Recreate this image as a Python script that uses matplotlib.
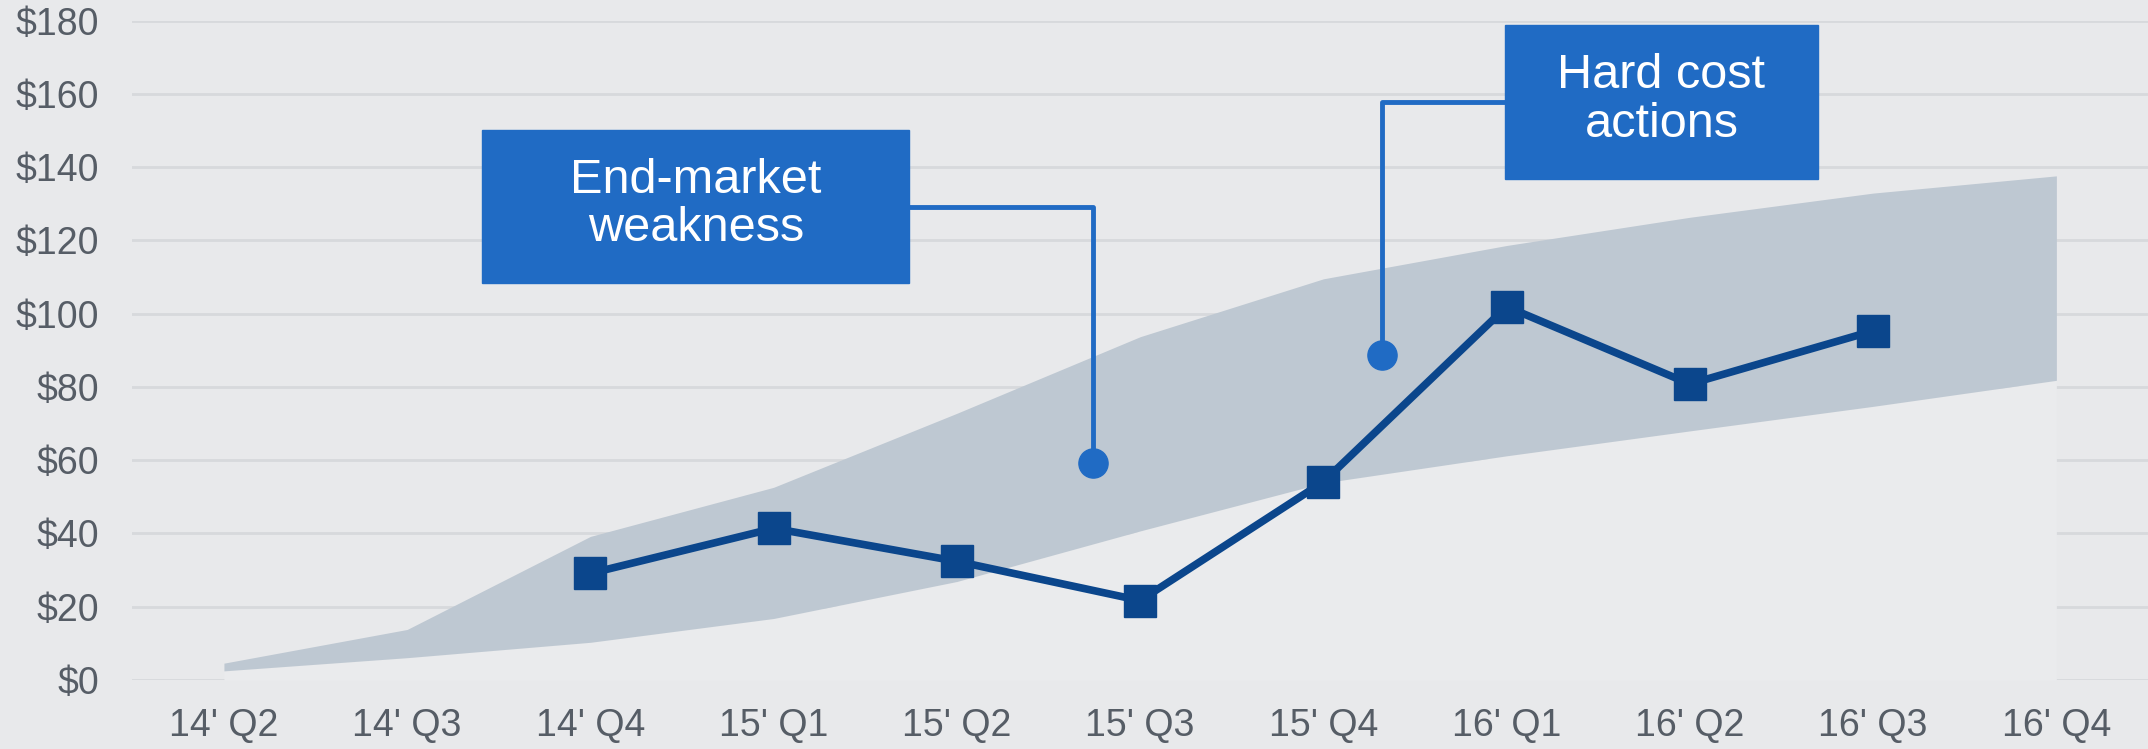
import matplotlib.pyplot as plt
from matplotlib.patches import Rectangle

quarters = ["14' Q2", "14' Q3", "14' Q4", "15' Q1", "15' Q2", "15' Q3",
            "15' Q4", "16' Q1", "16' Q2", "16' Q3", "16' Q4"]
band_low = [2.5, 6.1, 10.3, 16.8, 26.9, 40.7, 53.8, 61.2, 68.0, 74.7, 81.8]
band_high = [4.6, 13.8, 39.2, 52.6, 72.8, 93.7, 109.5, 118.6, 126.3, 132.9, 137.6]
actual_idx = [2, 3, 4, 5, 6, 7, 8, 9]
actual = [29.1, 41.4, 32.4, 21.7, 54.1, 101.9, 80.8, 95.3]
yticks = [0, 20, 40, 60, 80, 100, 120, 140, 160, 180]

bg = '#e8e9eb'
box_col = '#206bc4'
line_col = '#0b468c'
txt_col = '#565d66'

plt.rcParams['font.family'] = ['Liberation Sans', 'DejaVu Sans']

fig = plt.figure(figsize=(21.48, 7.49), dpi=100, facecolor=bg)
ax = fig.add_axes([0.0616, 0.0921, 0.9384, 0.8805])
ax.set_facecolor(bg)

x = list(range(len(quarters)))
for v in yticks:
    ax.axhline(v, color='#d7d9dc', lw=2, zorder=0)

# stacked area: near-background bottom part, then the range band
ax.fill_between(x, 0, band_low, color='#eaebed', lw=0, zorder=1)
ax.fill_between(x, band_low, band_high, color='#bec8d2', lw=0, zorder=2)

ax.plot(actual_idx, actual, color=line_col, lw=5.5, marker='s', markersize=23,
        zorder=5)

# callouts
ax.add_patch(Rectangle((1.41, 108.4), 2.33, 41.7, color=box_col, zorder=6))
ax.text(2.575, 129.8, 'End-market\nweakness', color='white', fontsize=35,
        ha='center', va='center', linespacing=1.1, zorder=7)
ax.plot([3.74, 4.743, 4.743], [129.2, 129.2, 59.3], color=box_col, lw=3.5,
        zorder=4)
ax.plot([4.743], [59.3], 'o', color=box_col, markersize=21, zorder=4)

ax.add_patch(Rectangle((6.99, 136.7), 1.71, 42.1, color=box_col, zorder=6))
ax.text(7.845, 158.3, 'Hard cost\nactions', color='white', fontsize=35,
        ha='center', va='center', linespacing=1.1, zorder=7)
ax.plot([6.99, 6.32, 6.32], [157.8, 157.8, 88.7], color=box_col, lw=3.5,
        zorder=4)
ax.plot([6.32], [88.7], 'o', color=box_col, markersize=21, zorder=4)

ax.set_xlim(-0.5, 10.5)
ax.set_ylim(0, 180)
ax.set_xticks(x)
ax.set_xticklabels(quarters)
ax.set_yticks(yticks)
ax.set_yticklabels(['$%d' % v for v in yticks])
ax.tick_params(axis='both', length=0, labelsize=27, colors=txt_col)
ax.tick_params(axis='y', pad=24)
ax.tick_params(axis='x', pad=20)
for s in ax.spines.values():
    s.set_visible(False)

fig.savefig('out.png', dpi=100, facecolor=bg)
